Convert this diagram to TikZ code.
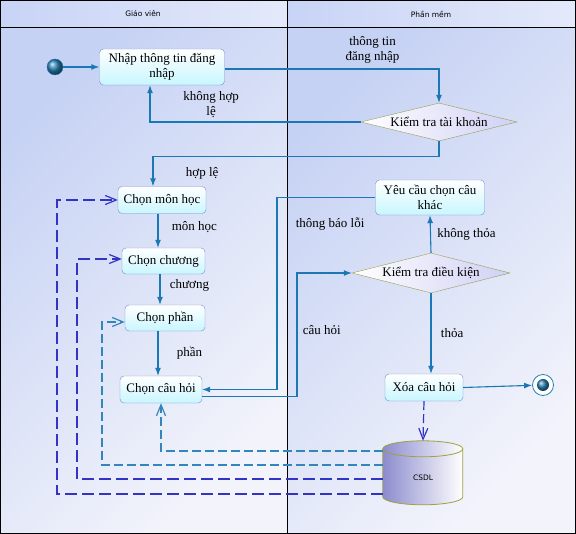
\documentclass[tikz,border=0pt]{standalone}
\usepackage{fontspec}
\setmainfont{Liberation Serif}
\newfontfamily\lanefont{DejaVu Sans}
\usepackage{tikz}
\usetikzlibrary{arrows.meta, shapes.geometric}
\definecolor{laneA}{RGB}{198, 210, 244}
\definecolor{laneB}{RGB}{243, 244, 251}
\definecolor{headA}{RGB}{200, 212, 246}
\definecolor{headB}{RGB}{228, 233, 250}
\definecolor{actline}{RGB}{112, 140, 208}
\definecolor{actfill}{RGB}{200, 246, 255}
\definecolor{dialine}{RGB}{150, 160, 80}
\definecolor{diafill}{RGB}{208, 208, 246}
\definecolor{flowblue}{RGB}{27, 120, 180}
\definecolor{dashteal}{RGB}{50, 134, 188}
\definecolor{dashblue}{RGB}{52, 52, 196}
\definecolor{dbfill}{RGB}{140, 140, 206}
\definecolor{dbline}{RGB}{160, 160, 60}
\definecolor{dotblue}{RGB}{40, 130, 180}

\begin{document}
\begin{tikzpicture}[x=1pt, y=-1pt,
    act/.style={draw=actline, rounded corners=4pt, top color=white, bottom color=actfill,
      minimum height=26pt, inner sep=2pt, align=center, font=\fontsize{13}{15}\selectfont},
    decide/.style={diamond, draw=dialine, left color=white, right color=diafill, aspect=4,
      inner sep=0pt, font=\fontsize{13}{15}\selectfont},
    lbl/.style={align=center, font=\fontsize{13}{15}\selectfont},
    lanehead/.style={font=\lanefont\fontsize{7.5}{9}\selectfont},
    flowline/.style={draw=flowblue, line width=1.1pt, -{Latex[length=8pt, width=6pt]}},
    dep/.style={line width=1.2pt, dash pattern=on 9pt off 4pt,
      -{Straight Barb[length=11pt, width=9pt]}}]

  \useasboundingbox (0,0) rectangle (576,534);

  % swimlanes
  \shade[top color=laneA, bottom color=laneB, shading angle=45] (0,27) rectangle (287,534);
  \shade[top color=laneA, bottom color=laneB, shading angle=45] (287,27) rectangle (576,534);
  \shade[left color=headA, right color=headB] (0,0) rectangle (287,27);
  \shade[left color=headA, right color=headB] (287,0) rectangle (576,27);
  \draw (0.5,0.5) rectangle (575.5,533.5);
  \draw (0,27) -- (576,27);
  \draw (287,0) -- (287,534);
  \node[lanehead] (giaovien) at (143,14) {Giáo viên};
  \node[lanehead] (phanmem) at (431,14) {Phần mềm};

  % nodes
  \node[circle, ball color=dotblue, draw=flowblue, minimum size=16pt, inner sep=0pt] (start) at (55,67) {};
  \node[act, minimum width=125pt, minimum height=36pt] (nhap) at (162,67) {Nhập thông tin đăng\\nhập};
  \node[decide, minimum width=156pt, minimum height=38pt] (kttk) at (439,122) {Kiểm tra tài khoản};
  \node[act, minimum width=88pt, minimum height=27pt] (monhoc) at (162,200) {Chọn môn học};
  \node[act, minimum width=83pt] (chuong) at (163.5,261) {Chọn chương};
  \node[act, minimum width=80pt] (phan) at (165,318) {Chọn phần};
  \node[act, minimum width=82pt, minimum height=27pt] (cauhoi) at (161,389.5) {Chọn câu hỏi};
  \node[act, minimum width=109pt, minimum height=35pt] (yeucau) at (430,197.5) {Yêu cầu chọn câu\\khác};
  \node[decide, minimum width=158pt, minimum height=40pt] (ktdk) at (431,273) {Kiểm tra điều kiện};
  \node[act, minimum width=78pt, minimum height=27pt] (xoa) at (424,387.5) {Xóa câu hỏi};
  \node[circle, draw=dotblue, fill=white, line width=0.8pt, minimum size=21pt, inner sep=0pt] (stop) at (543,385) {};
  \node[circle, ball color=dotblue, minimum size=12pt, inner sep=0pt] (stopdot) at (stop) {};

  \node[minimum width=80pt, minimum height=64pt, inner sep=0pt] (csdl) at (423,473) {};
  \shade[left color=dbfill, right color=white, draw=dbline, line width=0.8pt]
    (csdl.north west) ++(0,8) -- ++(0,48) arc[start angle=180, end angle=0, x radius=40, y radius=8]
    -- ++(0,-48) arc[start angle=0, end angle=-180, x radius=40, y radius=8] -- cycle;
  \draw[dbline, line width=0.8pt] (csdl.north west) ++(0,8) arc[start angle=180, end angle=0, x radius=40, y radius=8];
  \node[lanehead] (csdltext) at ([yshift=-5pt]csdl.center) {CSDL};

  % rails
  \coordinate (chainA) at (158,0);
  \coordinate (chainB) at (160,0);
  \coordinate (railloi) at (277,0);
  \coordinate (railcau) at (297,0);
  \coordinate (railB) at (102,0);
  \coordinate (railC) at (77,0);
  \coordinate (railD) at (57,0);
  \coordinate (outcau) at ([yshift=-7pt]cauhoi.east);
  \coordinate (dbA) at ([yshift=22pt]csdl.west);
  \coordinate (dbB) at ([yshift=8pt]csdl.west);
  \coordinate (dbC) at ([yshift=-6pt]csdl.west);
  \coordinate (dbD) at ([yshift=-21pt]csdl.west);

  % control flow
  \draw[flowline] (start) -- (nhap);
  \draw[flowline] ([yshift=-2pt]nhap.east) -| (kttk.north)
    node[lbl, pos=0.345, above=2pt] {thông tin\\đăng nhập};
  \draw[flowline] (kttk.west) -| ([xshift=-12pt]nhap.south)
    node[lbl, pos=0.355, above=0pt] {không hợp\\lệ};
  \draw[flowline] (kttk.south) -- ++(0,15) -| ([xshift=-9pt]monhoc.north)
    node[lbl, pos=0.414, below=7pt] {hợp lệ};
  \draw[flowline] (monhoc.south -| chainA) -- (chuong.north -| chainA)
    node[lbl, pos=0.4, right=10pt] {môn học};
  \draw[flowline] (chuong.south -| chainB) -- (phan.north -| chainB)
    node[lbl, pos=0.35, right=6pt] {chương};
  \draw[flowline] (phan.south -| chainA) -- (cauhoi.north -| chainA)
    node[lbl, midway, right=15pt] {phần};
  \draw[flowline] (outcau) -- (outcau -| railcau) |- (ktdk.west)
    node[lbl, pos=0.27, right=2pt] {câu hỏi};
  \draw[flowline] (ktdk.north) -- (yeucau.south)
    node[lbl, midway, right=3pt] {không thỏa};
  \draw[flowline] (yeucau.west) -- (yeucau.west -| railloi)
    node[lbl, pos=0.46, below=16pt] {thông báo lỗi} |- (cauhoi.east);
  \draw[flowline] (ktdk.south) -- (ktdk.south |- xoa.north)
    node[lbl, midway, right=6pt] {thỏa};
  \draw[flowline] (xoa.east) -- (stop);

  % data access
  \draw[dep, draw=dashblue] (xoa.south) -- (csdl.north);
  \draw[dep, draw=dashteal] (dbA) -| (cauhoi.south);
  \draw[dep, draw=dashteal] (dbB) -- (dbB -| railB) |- ([yshift=-4pt]phan.west);
  \draw[dep, draw=dashblue, dash pattern=on 12pt off 5pt] (dbC) -- (dbC -| railC) |- ([yshift=2pt]chuong.west);
  \draw[dep, draw=dashblue, dash pattern=on 12pt off 5pt] (dbD) -- (dbD -| railD) |- (monhoc.west);

\end{tikzpicture}
\end{document}
